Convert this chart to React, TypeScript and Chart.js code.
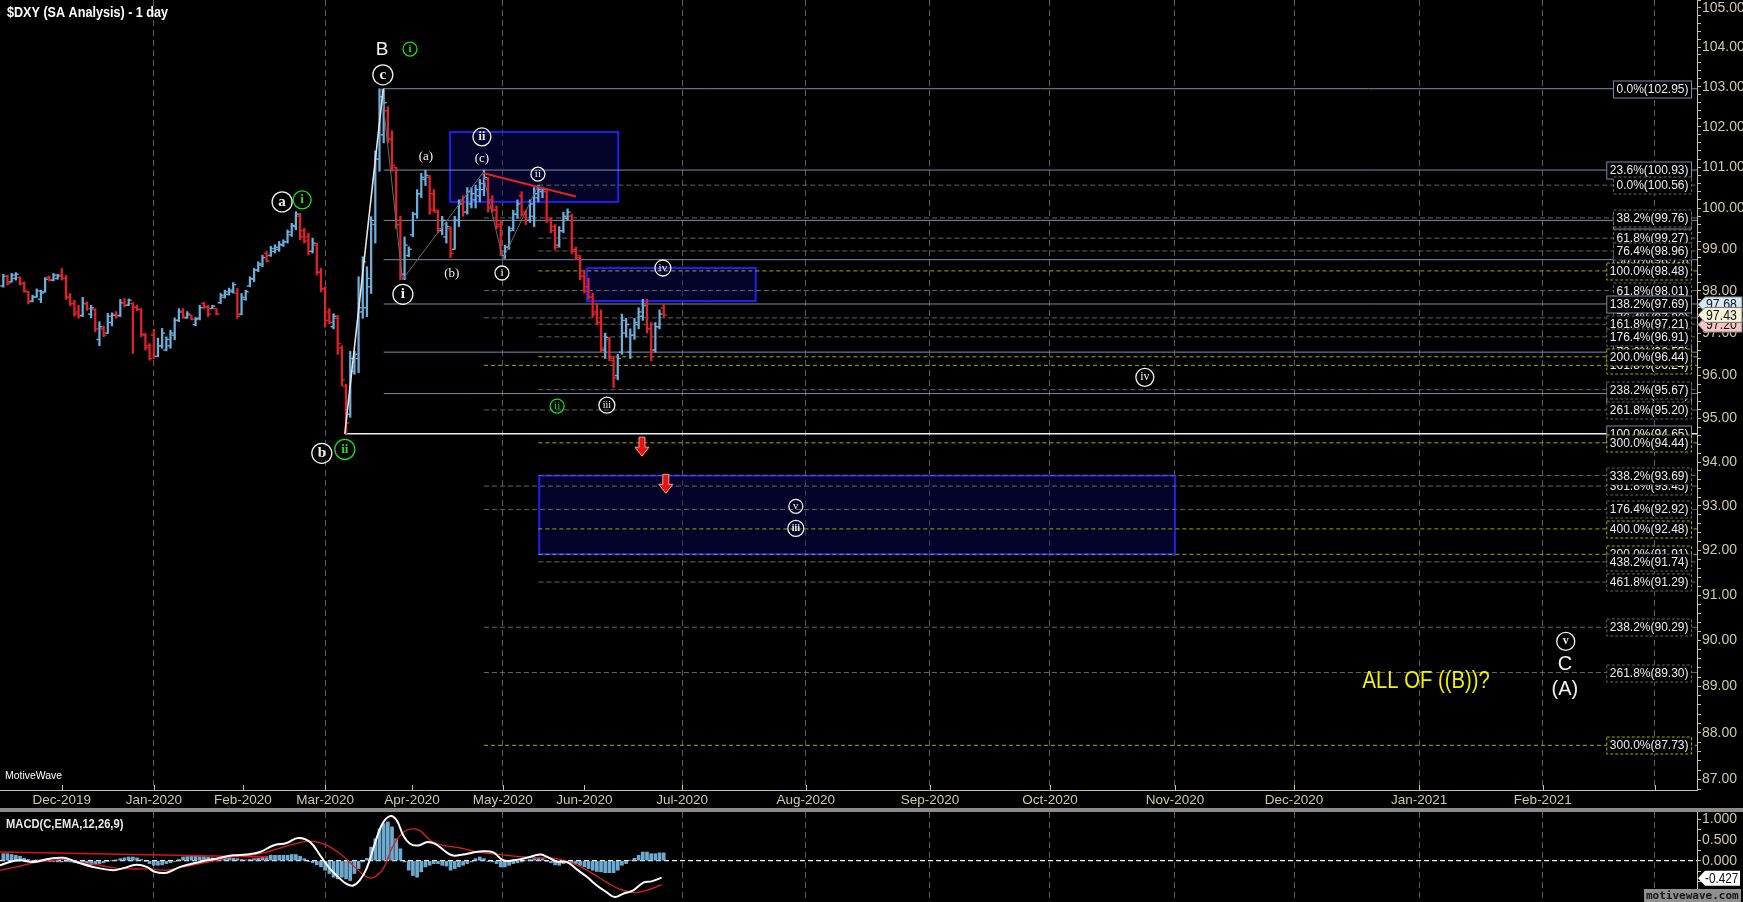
import React, { useEffect, useRef } from 'react';
import { Chart, registerables } from 'chart.js';
Chart.register(...registerables);

const SANS = '"Liberation Sans", Arial, sans-serif';
const SERIF = '"Liberation Serif", "DejaVu Serif", serif';
const TAN = '#cfc8a8';
const AXIS = '#c8c3a8';
const GRID = '#5a5a5a';
const UP = '#6aaedb';
const DOWN = '#e3212b';

const barOpen = [
  98.12, 98.35, 98.22, 98.30, 98.32, 98.18, 97.98, 97.76, 97.86, 97.80,
  97.98, 98.33, 98.26, 98.30, 98.38, 98.30, 97.85, 97.70, 97.50, 97.42,
  97.70, 97.45, 97.55, 96.85, 97.10, 97.00, 97.25, 97.45, 97.42, 97.72,
  97.66, 97.70, 97.62, 97.56, 96.95, 96.70, 96.95, 96.45, 96.70, 96.60,
  96.70, 96.95, 97.30, 97.52, 97.36, 97.42, 97.20, 97.35, 97.70, 97.62,
  97.58, 97.58, 97.72, 97.85, 97.92, 97.98, 97.95, 97.45, 97.80, 98.12,
  98.28, 98.50, 98.62, 98.90, 98.85, 98.95, 99.00, 99.10, 99.18, 99.35,
  99.55, 99.80, 99.45, 99.30, 98.95, 99.10, 98.45, 98.05, 97.50, 97.15,
  97.35, 96.65, 95.75, 95.10, 96.10, 96.40, 97.50, 97.60, 98.10, 99.60,
  101.20, 101.80, 102.40, 101.70, 101.00, 99.60, 98.40, 98.85, 99.35, 99.85,
  100.35, 100.70, 100.75, 100.35, 99.90, 99.45, 99.30, 99.50, 99.00, 99.70,
  100.20, 99.90, 100.10, 100.20, 100.30, 100.45, 100.70, 100.20, 99.95, 99.60,
  98.85, 99.05, 99.50, 99.85, 100.30, 99.90, 99.70, 99.80, 100.25, 100.40,
  100.40, 99.70, 99.55, 99.10, 99.45, 99.75, 99.80, 99.00, 98.80, 98.35,
  98.10, 97.85, 97.50, 97.25, 96.60, 96.85, 96.35, 96.00, 96.55, 97.00,
  96.55, 96.95, 97.20, 97.40, 97.70, 97.10, 96.60, 97.15, 97.60,
];
const barHigh = [
  98.40, 98.38, 98.42, 98.44, 98.34, 98.22, 97.99, 97.90, 98.05, 98.02,
  98.32, 98.36, 98.42, 98.40, 98.54, 98.37, 97.94, 97.78, 97.66, 97.85,
  97.74, 97.66, 97.58, 97.27, 97.17, 97.47, 97.48, 97.51, 97.80, 97.82,
  97.81, 97.72, 97.66, 97.58, 96.99, 96.75, 97.09, 96.88, 97.11, 96.91,
  97.07, 97.36, 97.58, 97.58, 97.51, 97.43, 97.37, 97.66, 97.73, 97.66,
  97.66, 97.58, 97.94, 98.02, 98.07, 98.20, 98.06, 97.94, 98.02, 98.34,
  98.54, 98.70, 98.86, 98.95, 99.07, 99.11, 99.19, 99.23, 99.47, 99.63,
  99.91, 99.87, 99.51, 99.39, 99.27, 99.15, 98.54, 98.10, 97.58, 97.46,
  97.42, 96.70, 95.80, 96.57, 96.57, 98.34, 98.82, 98.58, 99.79, 101.40,
  102.95, 102.95, 102.50, 101.90, 101.00, 99.80, 99.30, 99.06, 99.90, 100.45,
  100.85, 100.93, 100.80, 100.45, 99.95, 99.80, 99.65, 99.55, 99.80, 100.20,
  100.30, 100.50, 100.50, 100.56, 100.70, 100.93, 100.75, 100.30, 100.05, 99.70,
  99.10, 99.55, 99.95, 100.20, 100.40, 99.95, 100.20, 100.50, 100.56, 100.50,
  100.45, 99.75, 99.60, 99.55, 99.90, 99.98, 99.85, 99.05, 98.85, 98.50,
  98.30, 97.95, 97.70, 97.55, 97.00, 96.90, 96.45, 96.50, 97.45, 97.35,
  97.10, 97.35, 97.60, 97.80, 97.80, 97.25, 97.25, 97.55, 97.68,
];
const barLow = [
  98.09, 98.14, 98.21, 98.26, 98.14, 97.97, 97.69, 97.74, 97.85, 97.72,
  97.97, 98.24, 98.24, 98.28, 98.26, 97.80, 97.65, 97.40, 97.35, 97.39,
  97.54, 97.36, 97.03, 96.70, 96.91, 96.99, 97.17, 97.35, 97.39, 97.62,
  97.65, 96.52, 97.53, 96.91, 96.60, 96.36, 96.40, 96.44, 96.64, 96.58,
  96.64, 96.84, 97.27, 97.35, 97.35, 97.31, 97.17, 97.31, 97.58, 97.39,
  97.58, 97.43, 97.70, 97.83, 97.90, 97.95, 97.35, 97.43, 97.78, 98.10,
  98.22, 98.46, 98.58, 98.70, 98.83, 98.91, 98.95, 99.07, 99.15, 99.31,
  99.47, 99.23, 99.15, 98.86, 98.91, 98.38, 97.98, 97.14, 97.22, 97.10,
  96.50, 95.76, 94.65, 95.03, 96.03, 96.07, 97.35, 97.39, 97.94, 99.15,
  100.90, 101.60, 101.60, 100.90, 99.50, 98.27, 98.27, 98.82, 99.30, 99.75,
  100.25, 100.55, 99.85, 99.90, 99.40, 99.35, 99.15, 98.80, 99.00, 99.55,
  99.80, 99.85, 100.00, 100.00, 100.15, 100.30, 99.90, 99.90, 99.50, 98.85,
  98.78, 99.00, 99.45, 99.75, 99.80, 99.60, 99.65, 99.55, 100.15, 100.25,
  99.65, 99.40, 99.00, 99.05, 99.40, 99.70, 98.90, 98.75, 98.27, 97.95,
  97.80, 97.38, 97.20, 96.55, 96.40, 96.35, 95.72, 95.90, 96.50, 96.90,
  96.40, 96.85, 97.10, 97.30, 97.00, 96.35, 96.55, 97.10, 97.38,
];
const barClose = [
  98.35, 98.18, 98.38, 98.40, 98.18, 98.00, 97.74, 97.85, 98.00, 97.95,
  98.28, 98.26, 98.38, 98.36, 98.30, 97.85, 97.70, 97.45, 97.40, 97.70,
  97.58, 97.60, 97.10, 97.15, 96.95, 97.40, 97.42, 97.40, 97.72, 97.66,
  97.78, 97.60, 97.56, 96.98, 96.65, 96.40, 96.45, 96.70, 97.00, 96.85,
  97.00, 97.30, 97.50, 97.38, 97.45, 97.33, 97.33, 97.60, 97.62, 97.45,
  97.64, 97.45, 97.90, 97.98, 98.02, 98.15, 97.40, 97.85, 97.98, 98.30,
  98.50, 98.65, 98.80, 98.72, 99.02, 99.05, 99.12, 99.18, 99.42, 99.58,
  99.85, 99.30, 99.20, 98.95, 99.15, 98.45, 98.05, 97.30, 97.25, 97.40,
  96.75, 95.90, 94.90, 96.40, 96.50, 97.60, 98.70, 98.30, 99.70, 101.20,
  102.75, 102.60, 101.70, 101.05, 99.60, 98.40, 99.10, 99.00, 99.85, 100.35,
  100.75, 100.80, 99.95, 99.95, 99.50, 99.70, 99.55, 98.90, 99.70, 100.10,
  99.90, 100.40, 100.35, 100.45, 100.60, 100.75, 100.00, 99.95, 99.55, 98.95,
  99.05, 99.45, 99.85, 100.10, 99.85, 99.70, 100.10, 100.35, 100.45, 100.45,
  99.70, 99.45, 99.05, 99.45, 99.80, 99.90, 98.95, 98.85, 98.35, 98.00,
  97.85, 97.45, 97.25, 96.65, 96.90, 96.40, 95.95, 96.40, 97.30, 97.20,
  96.95, 97.25, 97.50, 97.65, 97.10, 96.60, 97.15, 97.45, 97.43,
];

const monthTickPos = [14, 36, 57.3, 77, 97.8, 119.5, 139, 162.4, 192, 221.7, 250.4, 280.3, 308.8, 338.7, 368.3, 395.1];
const monthLabels = ['Dec-2019', 'Jan-2020', 'Feb-2020', 'Mar-2020', 'Apr-2020', 'May-2020', 'Jun-2020', 'Jul-2020', 'Aug-2020', 'Sep-2020', 'Oct-2020', 'Nov-2020', 'Dec-2020', 'Jan-2021', 'Feb-2021', ''];
const monthGrid = [false, true, false, true, false, true, false, true, true, true, true, true, true, true, true, true];

const priceMajor = [87, 88, 89, 90, 91, 92, 93, 94, 95, 96, 97, 98, 99, 100, 101, 102, 103, 104, 105];
const macdTicks = [-0.75, -0.5, -0.25, 0, 0.25, 0.5, 0.75, 1.0];
const macdMajor = [0, 0.5, 1.0];

const fibPrice = [98.75, 97.36, 96.55, 96.24, 95.58, 93.45, 91.91, 99.70,
  102.95, 100.93, 100.56, 99.76, 99.27, 98.96, 98.48, 98.01, 97.69, 97.21, 96.91, 96.44, 95.67, 95.20, 94.65, 94.44, 93.69, 92.92, 92.48, 91.74, 91.29, 90.29, 89.30, 87.73];
const fibText = ['50.0%(98.75)', '76.4%(97.36)', '78.6%(96.55)', '161.8%(96.24)', '100.0%(95.58)', '361.8%(93.45)', '200.0%(91.91)', '38.2%(99.70)',
  '0.0%(102.95)', '23.6%(100.93)', '0.0%(100.56)', '38.2%(99.76)', '61.8%(99.27)', '76.4%(98.96)', '100.0%(98.48)', '61.8%(98.01)', '138.2%(97.69)', '161.8%(97.21)', '176.4%(96.91)', '200.0%(96.44)', '238.2%(95.67)', '261.8%(95.20)', '100.0%(94.65)', '300.0%(94.44)', '338.2%(93.69)', '176.4%(92.92)', '400.0%(92.48)', '438.2%(91.74)', '461.8%(91.29)', '238.2%(90.29)', '261.8%(89.30)', '300.0%(87.73)'];
const fibStart = [91, 115, 91, 115, 91, 115, 128, 91,
  91, 91, 128, 115, 128, 128, 128, 115, 91, 128, 128, 128, 128, 115, 81.7, 128, 128, 115, 128, 128, 128, 115, 115, 115];
const fibKind = ['s', 'd', 's', 'y', 's', 'd', 'y', 's',
  's', 's', 'd', 'd', 'd', 'd', 'y', 'd', 's', 'd', 'd', 'y', 'd', 'd', 'w', 'y', 'd', 'd', 'y', 'd', 'd', 'd', 'd', 'y'];

const waveBK = [81.7, 90.9];
const waveBP = [94.65, 102.95];
const zigK = [90.5, 95.5, 114.7, 119.5, 128];
const zigP = [102.95, 98.27, 100.86, 98.76, 100.56];
const redK = [114.7, 137];
const redP = [100.86, 100.28];

const zoneK0 = [106.9, 139.6, 128.2];
const zoneK1 = [147.1, 180.0, 280.3];
const zoneHi = [101.87, 98.55, 93.69];
const zoneLo = [100.15, 97.76, 91.91];

const arrowK = [152.8, 158.5];
const arrowP = [94.34, 93.49];

const W = '#f2f2f2', G = '#19e019', YEL = '#f2f200';
const waveLabels: any[] = [
  ['B', 90.6, 103.95, 0, W, 19, SANS, false, 1],
  ['i', 97.3, 103.95, 7, G, 11, SERIF, true, 1],
  ['c', 90.8, 103.30, 10, W, 15, SERIF, true, 1],
  ['(a)', 101.1, 101.28, 0, W, 13, SERIF, false, 1],
  ['ii', 114.5, 101.75, 9, W, 12, SERIF, true, 1],
  ['(c)', 114.5, 101.23, 0, W, 13, SERIF, false, 1],
  ['ii', 127.9, 100.83, 7, W, 11, SERIF, false, 1],
  ['a', 66.7, 100.15, 10, W, 15, SERIF, true, 1],
  ['i', 71.5, 100.20, 9, G, 13, SERIF, true, 1],
  ['(b)', 107.3, 98.45, 0, W, 13, SERIF, false, 1],
  ['i', 119.3, 98.43, 7, W, 11, SERIF, false, 1],
  ['i', 95.6, 97.92, 10, W, 15, SERIF, true, 1],
  ['iv', 157.8, 98.55, 8, W, 11, SERIF, false, 1],
  ['ii', 132.5, 95.29, 7, G, 11, SERIF, false, 1],
  ['iii', 144.4, 95.31, 8, W, 10, SERIF, false, 1],
  ['b', 76.2, 94.20, 10, W, 15, SERIF, true, 1],
  ['ii', 81.7, 94.29, 10, G, 13, SERIF, true, 1],
  ['iv', 273.1, 95.96, 9, W, 12, SERIF, false, 1],
  ['v', 189.6, 92.99, 7, W, 11, SERIF, false, 1],
  ['iii', 189.6, 92.49, 8, W, 10, SERIF, true, 1],
  ['v', 373.8, 89.98, 9, W, 12, SERIF, true, 1],
  ['C', 373.6, 89.50, 0, W, 20, SANS, false, 1],
  ['(A)', 373.6, 88.96, 0, W, 20, SANS, false, 1],
  ['ALL OF ((B))?', 340.4, 89.13, 0, YEL, 23, SANS, false, 0.88],
];

const tagPrice = [97.20, 97.68, 97.43];
const tagText = ['97.20', '97.68', '97.43'];
const tagBg = ['#f6c4c4', '#d4e9f8', '#f5f1d6'];

const macdHist = [
  0.17, 0.17, 0.15, 0.13, 0.11, 0.06, 0.03, 0.01, 0.02, 0.02,
  0.01, -0.02, -0.02, -0.03, -0.03, -0.02, -0.03, -0.05, -0.06, -0.08,
  -0.10, -0.10, -0.08, -0.07, -0.05, -0.02, 0.01, 0.02, 0.05, 0.07,
  0.09, 0.09, 0.07, 0.03, -0.02, -0.07, -0.11, -0.11, -0.10, -0.07,
  -0.05, -0.02, 0.03, 0.09, 0.10, 0.11, 0.11, 0.10, 0.10, 0.09,
  0.07, 0.06, 0.08, 0.10, 0.08, 0.06, 0.05, 0.03, 0.02, 0.03,
  0.05, 0.06, 0.09, 0.11, 0.13, 0.13, 0.13, 0.13, 0.13, 0.15,
  0.15, 0.11, 0.05, -0.02, -0.05, -0.10, -0.15, -0.23, -0.31, -0.40,
  -0.44, -0.40, -0.44, -0.48, -0.31, -0.19, -0.03, 0.06, 0.33, 0.53,
  0.77, 0.90, 0.94, 0.82, 0.53, 0.29, -0.03, -0.23, -0.36, -0.40,
  -0.27, -0.15, -0.11, -0.07, -0.07, -0.11, -0.13, -0.23, -0.19, -0.15,
  -0.11, -0.07, -0.03, 0.05, 0.09, 0.05, -0.02, -0.03, -0.07, -0.15,
  -0.15, -0.11, -0.07, -0.05, -0.03, 0.01, 0.03, 0.05, 0.06, 0.05,
  -0.02, -0.05, -0.10, -0.11, -0.07, -0.05, -0.05, -0.07, -0.11, -0.15,
  -0.19, -0.23, -0.26, -0.27, -0.29, -0.29, -0.29, -0.23, -0.11, -0.07,
  0.01, 0.06, 0.13, 0.21, 0.21, 0.17, 0.17, 0.19, 0.19,
];
const macdK = [-0.8, 1.6, 4, 7.2, 11.2, 14.4, 17.5, 21.5, 26.3, 28.7, 31.9, 34.3, 36.3, 39.1, 42.3, 47, 51, 55, 58.2, 61.4, 64.6, 67.8, 70.6, 73.4, 75.8, 78.2, 80.6, 82.1, 83.7, 85.3, 86.9, 88.5, 90.5, 92.5, 94.1, 95.7, 97.3, 99.3, 101.3, 103.3, 105.3, 107.3, 110, 112.4, 114.8, 117.2, 119.6, 122, 125.2, 128.4, 130, 132.4, 134.8, 137.2, 139.6, 142, 144.3, 146.3, 148.3, 150.7, 153.1, 155.1, 157.5];
const macdV = [-0.11, -0.03, 0.01, -0.03, 0.05, 0.07, -0.03, -0.15, -0.23, -0.18, -0.10, -0.15, -0.27, -0.29, -0.15, -0.03, 0.05, 0.13, 0.15, 0.21, 0.37, 0.43, 0.55, 0.45, 0.13, -0.20, -0.44, -0.56, -0.60, -0.47, -0.19, 0.29, 0.86, 1.08, 0.98, 0.61, 0.41, 0.37, 0.45, 0.41, 0.26, 0.13, 0.15, 0.20, 0.23, 0.20, 0.01, 0.01, 0.07, 0.15, 0.10, -0.02, -0.03, -0.21, -0.39, -0.60, -0.76, -0.88, -0.80, -0.72, -0.53, -0.50, -0.41];
const sigK = [-0.8, 3.2, 7.2, 11.2, 15.2, 19.1, 23.1, 27.1, 31.1, 35.1, 39.1, 43.1, 47, 51, 55, 59, 63, 67, 71, 74.2, 77.4, 80.6, 83, 85.3, 86.9, 88.5, 90.9, 93.3, 95.7, 97.7, 99.7, 102.2, 105.3, 109.3, 114, 118.8, 123.6, 128.4, 132.4, 136.4, 140.3, 144.3, 147.5, 150.7, 153.9, 157.5];
const sigV = [-0.23, -0.15, -0.05, 0.00, 0.03, -0.05, -0.11, -0.18, -0.20, -0.20, -0.23, -0.15, -0.07, 0.01, 0.10, 0.13, 0.21, 0.33, 0.44, 0.47, 0.37, 0.17, -0.05, -0.27, -0.39, -0.41, -0.19, 0.37, 0.69, 0.77, 0.73, 0.49, 0.37, 0.31, 0.20, 0.15, 0.10, 0.07, 0.05, -0.07, -0.27, -0.52, -0.69, -0.77, -0.72, -0.58];
const trendK = [-0.8, 63.3];
const trendV = [0.21, 0.09];

const X_MIN = -0.79, X_MAX = 405.2;
const Y_MIN = 86.78, Y_MAX = 105.2;

const priceTickVals: number[] = [];
for (let v = 868; v <= 1052; v += 2) priceTickVals.push(v / 10);
const majorSet = new Set(priceMajor);

const upColor = (i: number) => (barClose[i] >= barOpen[i] ? UP : DOWN);
const pts = (ks: number[], vs: number[]) => ks.map((k, i) => ({ x: k, y: vs[i] }));

function kindStyle(kind: string) {
  if (kind === 's') return { color: '#7d8cab', dash: [] as number[] };
  if (kind === 'w') return { color: '#eeeeee', dash: [] as number[] };
  if (kind === 'y') return { color: '#a8a800', dash: [4, 3] };
  return { color: '#646464', dash: [5, 3] };
}

function squeezed(ctx: any, text: string, x: number, y: number, sx: number, align: string) {
  ctx.save();
  ctx.translate(x, y);
  ctx.scale(sx, 1);
  ctx.textAlign = align;
  ctx.fillText(text, 0, 0);
  ctx.restore();
}

const mainPlugin = {
  id: 'mainDecor',
  beforeDatasetsDraw(chart: any) {
    const { ctx, scales: { x, y } } = chart;
    ctx.save();
    for (let i = 0; i < zoneK0.length; i++) {
      const x0 = x.getPixelForValue(zoneK0[i]);
      const x1 = x.getPixelForValue(zoneK1[i]);
      const y0 = y.getPixelForValue(zoneHi[i]);
      const y1 = y.getPixelForValue(zoneLo[i]);
      ctx.fillStyle = 'rgba(8,8,95,0.45)';
      ctx.fillRect(x0, y0, x1 - x0, y1 - y0);
      ctx.strokeStyle = '#1f1ff2';
      ctx.lineWidth = 2;
      ctx.strokeRect(x0, y0, x1 - x0, y1 - y0);
    }
    ctx.restore();
  },
  afterDatasetsDraw(chart: any) {
    const { ctx, chartArea, scales: { x, y } } = chart;
    ctx.save();
    ctx.font = `12px ${SANS}`;
    ctx.textBaseline = 'middle';
    ctx.textAlign = 'left';
    for (let i = 0; i < fibPrice.length; i++) {
      const yy = Math.round(y.getPixelForValue(fibPrice[i])) + 0.5;
      const w = ctx.measureText(fibText[i]).width + 6;
      const right = chartArea.right - 5.5;
      const left = right - w;
      const st = kindStyle(fibKind[i]);
      ctx.fillStyle = '#000';
      ctx.fillRect(left, yy - 8.5, w, 17);
      ctx.setLineDash(fibKind[i] === 'd' || fibKind[i] === 'y' ? [3, 2] : []);
      ctx.strokeStyle = fibKind[i] === 'w' ? '#7d8cab' : st.color;
      ctx.lineWidth = 1;
      ctx.strokeRect(left, yy - 8.5, w, 17);
      ctx.setLineDash([]);
      ctx.fillStyle = '#ececec';
      ctx.fillText(fibText[i], left + 3, yy + 0.5);
    }
    for (const [t, k, p, r, col, size, fam, bold, sx] of waveLabels) {
      const px = x.getPixelForValue(k);
      const py = y.getPixelForValue(p);
      if (r > 0) {
        ctx.beginPath();
        ctx.arc(px, py, r, 0, Math.PI * 2);
        ctx.strokeStyle = col;
        ctx.lineWidth = 1.3;
        ctx.stroke();
      }
      ctx.fillStyle = col;
      ctx.font = `${bold ? 'bold ' : ''}${size}px ${fam}`;
      squeezed(ctx, t, px, py + (r > 0 ? 0 : 1), sx, 'center');
    }
    for (let i = 0; i < arrowK.length; i++) {
      const px = x.getPixelForValue(arrowK[i]);
      const py = y.getPixelForValue(arrowP[i]);
      ctx.beginPath();
      ctx.moveTo(px - 3, py - 10);
      ctx.lineTo(px + 3, py - 10);
      ctx.lineTo(px + 3, py);
      ctx.lineTo(px + 7, py);
      ctx.lineTo(px, py + 9);
      ctx.lineTo(px - 7, py);
      ctx.lineTo(px - 3, py);
      ctx.closePath();
      ctx.fillStyle = '#e41414';
      ctx.fill();
      ctx.strokeStyle = '#ff9a9a';
      ctx.lineWidth = 1;
      ctx.stroke();
    }
    ctx.fillStyle = '#ffffff';
    ctx.font = `bold 15px ${SANS}`;
    squeezed(ctx, '$DXY (SA Analysis) - 1 day', 7, 13, 0.84, 'left');
    ctx.font = `11px ${SANS}`;
    squeezed(ctx, 'MotiveWave', 5, chartArea.bottom - 14, 0.95, 'left');
    ctx.strokeStyle = AXIS;
    ctx.lineWidth = 1;
    for (const t of x.ticks) {
      const px = Math.round(x.getPixelForValue(t.value)) + 0.5;
      ctx.beginPath();
      ctx.moveTo(px, chartArea.bottom - 5);
      ctx.lineTo(px, chartArea.bottom);
      ctx.stroke();
    }
    ctx.restore();
  },
  afterDraw(chart: any) {
    const { ctx, chartArea, scales: { y } } = chart;
    ctx.save();
    ctx.font = `14px ${SANS}`;
    ctx.textBaseline = 'middle';
    const x0 = chartArea.right + 1;
    for (let i = 0; i < tagPrice.length; i++) {
      const py = y.getPixelForValue(tagPrice[i]);
      ctx.beginPath();
      ctx.moveTo(x0, py);
      ctx.lineTo(x0 + 7, py - 7.5);
      ctx.lineTo(1742, py - 7.5);
      ctx.lineTo(1742, py + 7.5);
      ctx.lineTo(x0 + 7, py + 7.5);
      ctx.closePath();
      ctx.fillStyle = tagBg[i];
      ctx.fill();
      ctx.strokeStyle = '#777';
      ctx.lineWidth = 1;
      ctx.stroke();
      ctx.fillStyle = '#111';
      squeezed(ctx, tagText[i], x0 + 8, py + 1, 0.88, 'left');
    }
    ctx.restore();
  },
};

const macdPlugin = {
  id: 'macdDecor',
  afterDraw(chart: any) {
    const { ctx, chartArea, scales: { y } } = chart;
    ctx.save();
    ctx.textBaseline = 'middle';
    ctx.fillStyle = '#e8e8e8';
    ctx.font = `bold 13px ${SANS}`;
    squeezed(ctx, 'MACD(C,EMA,12,26,9)', 6, 12, 0.86, 'left');
    const py = y.getPixelForValue(-0.427);
    const x0 = chartArea.right + 1;
    ctx.beginPath();
    ctx.moveTo(x0, py);
    ctx.lineTo(x0 + 7, py - 7.5);
    ctx.lineTo(1740, py - 7.5);
    ctx.lineTo(1740, py + 7.5);
    ctx.lineTo(x0 + 7, py + 7.5);
    ctx.closePath();
    ctx.fillStyle = '#ffffff';
    ctx.fill();
    ctx.fillStyle = '#111';
    ctx.font = `14px ${SANS}`;
    squeezed(ctx, '-0.427', x0 + 7, py + 1, 0.84, 'left');
    ctx.fillStyle = '#8f8f8f';
    ctx.fillRect(1644, 77, 97, 13);
    ctx.fillStyle = '#161616';
    ctx.font = `bold 11px "DejaVu Sans Mono", monospace`;
    squeezed(ctx, 'motivewave.com', 1646, 84, 1, 'left');
    ctx.restore();
  },
};

function timeAxis(showLabels: boolean) {
  return {
    type: 'linear',
    min: X_MIN,
    max: X_MAX,
    offset: false,
    afterBuildTicks: (s: any) => { s.ticks = monthTickPos.map((v) => ({ value: v })); },
    afterFit: (s: any) => { s.height = showLabels ? 18 : 0; s.paddingLeft = 0; s.paddingRight = 0; },
    ticks: {
      display: showLabels,
      autoSkip: false,
      maxRotation: 0,
      minRotation: 0,
      padding: 2,
      color: TAN,
      font: { family: SANS, size: 13.5 },
      callback: (_v: any, i: number) => monthLabels[i],
    },
    grid: {
      offset: false,
      drawTicks: false,
      lineWidth: 1,
      color: (c: any) => (monthGrid[c.index] ? GRID : 'rgba(0,0,0,0)'),
    },
    border: { display: showLabels, color: AXIS, width: 1, dash: [6, 4] },
  };
}

export default function App() {
  const mainRef = useRef<HTMLCanvasElement>(null);
  const macdRef = useRef<HTMLCanvasElement>(null);

  useEffect(() => {
    document.body.style.margin = '0';
    document.body.style.background = '#000';
    Chart.defaults.font.family = SANS;

    const fibSets = fibPrice.map((p, i) => {
      const st = kindStyle(fibKind[i]);
      return {
        type: 'line',
        data: [{ x: fibStart[i], y: p }, { x: X_MAX, y: p }],
        borderColor: st.color,
        borderDash: st.dash,
        borderWidth: fibKind[i] === 'w' ? 1.5 : 1,
        pointRadius: 0,
        order: 6,
      };
    });

    const main = new Chart(mainRef.current as HTMLCanvasElement, {
      type: 'bar',
      data: {
        datasets: [
          { type: 'line', data: pts(waveBK, waveBP), borderColor: '#e6e6e6', borderWidth: 1.6, pointRadius: 0, order: 0 },
          { type: 'line', data: pts(zigK, zigP), borderColor: '#6a6a6a', borderWidth: 1, pointRadius: 0, order: 0 },
          { type: 'line', data: pts(redK, redP), borderColor: '#e22222', borderWidth: 2, pointRadius: 0, order: 0 },
          {
            type: 'bar',
            data: barHigh.map((h, i) => ({ x: i, y: [barLow[i], h] })),
            backgroundColor: (c: any) => upColor(c.dataIndex),
            barThickness: 1.6,
            grouped: false,
            order: 2,
          },
          {
            type: 'scatter',
            data: barOpen.map((o, i) => ({ x: i - 0.36, y: o })),
            showLine: false,
            pointStyle: 'line',
            pointRadius: 1.5,
            pointBorderWidth: 1.4,
            pointBorderColor: (c: any) => upColor(c.dataIndex),
            order: 2,
          },
          {
            type: 'scatter',
            data: barClose.map((cl, i) => ({ x: i + 0.36, y: cl })),
            showLine: false,
            pointStyle: 'line',
            pointRadius: 1.5,
            pointBorderWidth: 1.4,
            pointBorderColor: (c: any) => upColor(c.dataIndex),
            order: 2,
          },
          ...fibSets,
        ],
      } as any,
      options: {
        responsive: false,
        animation: false,
        devicePixelRatio: 1,
        events: [],
        layout: { padding: 0, autoPadding: false },
        plugins: { legend: { display: false }, tooltip: { enabled: false } },
        scales: {
          x: timeAxis(true),
          y: {
            type: 'logarithmic',
            position: 'right',
            min: Y_MIN,
            max: Y_MAX,
            afterBuildTicks: (s: any) => { s.ticks = priceTickVals.map((v) => ({ value: v })); },
            afterFit: (s: any) => { s.width = 46; s.paddingTop = 0; s.paddingBottom = 0; },
            ticks: {
              autoSkip: false,
              padding: 1,
              color: TAN,
              font: { family: SANS, size: 14 },
              callback: (v: any) => (majorSet.has(v) ? Number(v).toFixed(2) : ''),
            },
            grid: { drawOnChartArea: false, drawTicks: true, tickLength: 4, color: AXIS, tickColor: AXIS },
            border: { display: true, color: AXIS, width: 1 },
          },
        },
      } as any,
      plugins: [mainPlugin],
    } as any);

    const macd = new Chart(macdRef.current as HTMLCanvasElement, {
      type: 'bar',
      data: {
        datasets: [
          { type: 'line', data: pts(macdK, macdV), borderColor: '#ffffff', borderWidth: 2, tension: 0.4, pointRadius: 0, order: 0 },
          { type: 'line', data: pts(sigK, sigV), borderColor: '#e01c1c', borderWidth: 1.3, tension: 0.4, pointRadius: 0, order: 1 },
          { type: 'line', data: pts(trendK, trendV), borderColor: '#e01010', borderWidth: 1.6, pointRadius: 0, order: 1 },
          {
            type: 'bar',
            data: macdHist.map((v, i) => ({ x: i, y: v })),
            backgroundColor: '#6ea9cf',
            barThickness: 3,
            grouped: false,
            order: 2,
          },
          {
            type: 'line',
            data: [{ x: X_MIN, y: 0 }, { x: X_MAX, y: 0 }],
            borderColor: '#ffffff',
            borderDash: [5, 3],
            borderWidth: 1.3,
            pointRadius: 0,
            order: 3,
          },
        ],
      } as any,
      options: {
        responsive: false,
        animation: false,
        devicePixelRatio: 1,
        events: [],
        layout: { padding: 0, autoPadding: false },
        plugins: { legend: { display: false }, tooltip: { enabled: false } },
        scales: {
          x: timeAxis(false),
          y: {
            type: 'linear',
            position: 'right',
            min: -1.0,
            max: 1.18,
            afterBuildTicks: (s: any) => { s.ticks = macdTicks.map((v) => ({ value: v })); },
            afterFit: (s: any) => { s.width = 46; s.paddingTop = 0; s.paddingBottom = 0; },
            ticks: {
              autoSkip: false,
              padding: 1,
              color: TAN,
              font: { family: SANS, size: 14 },
              callback: (v: any) => (macdMajor.includes(v) ? Number(v).toFixed(3) : ''),
            },
            grid: { drawOnChartArea: false, drawTicks: true, tickLength: 4, color: AXIS, tickColor: AXIS },
            border: { display: true, color: AXIS, width: 1 },
          },
        },
      } as any,
      plugins: [macdPlugin],
    } as any);

    return () => {
      main.destroy();
      macd.destroy();
    };
  }, []);

  return (
    <div style={{ position: 'absolute', left: 0, top: 0, width: 1743, height: 902, background: '#000', overflow: 'hidden' }}>
      <canvas ref={mainRef} width={1743} height={808} style={{ display: 'block', width: 1743, height: 808 }} />
      <div style={{ height: 4, background: '#8a8a8a' }} />
      <canvas ref={macdRef} width={1743} height={90} style={{ display: 'block', width: 1743, height: 90 }} />
    </div>
  );
}
